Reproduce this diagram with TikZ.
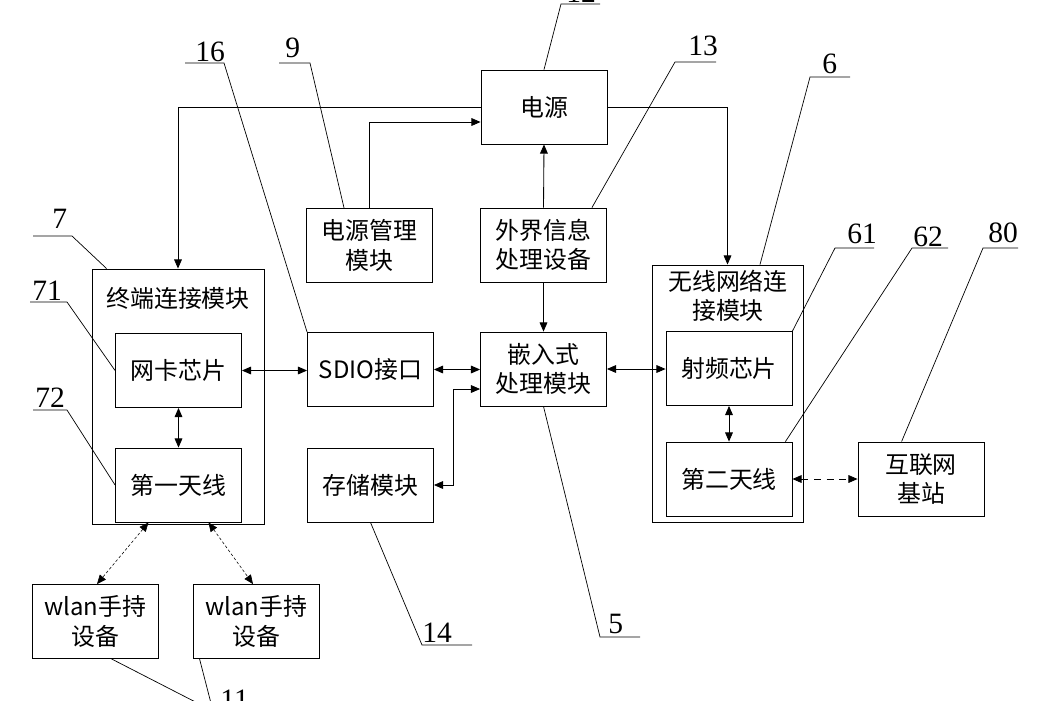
\documentclass[tikz,border=0pt]{standalone}
\usepackage{fontspec}
\setmainfont{Liberation Serif}
\newfontfamily\cjk{Noto Sans CJK SC}
\usetikzlibrary{calc,arrows.meta}

\begin{document}
\begin{tikzpicture}[x=0.025cm,y=-0.025cm,line width=0.6pt,
  box/.style={draw,minimum width=3.15cm,minimum height=1.85cm,inner sep=0pt,align=center,font=\cjk\fontsize{17}{21}\selectfont},
  frame/.style={draw,inner sep=0pt},
  title/.style={inner sep=0pt,align=center,font=\cjk\fontsize{17}{21}\selectfont},
  num/.style={anchor=base west,inner sep=0pt,font=\fontsize{21}{24}\selectfont},
  lead/.style={line width=0.5pt},
  arr/.style={-{Triangle[length=6.5pt,width=5.5pt]}},
  darr/.style={{Triangle[length=6.5pt,width=5.5pt]}-{Triangle[length=6.5pt,width=5.5pt]}},
  linkdash/.style={dash pattern=on 5pt off 4pt},
  radio/.style={line width=0.4pt,dash pattern=on 2pt off 1.5pt}]

\useasboundingbox (0,0) rectangle (1050,700);

\node[box] (pwr) at (544,107) {电源};

\node[box] (pmu) at (369.5,245.5) {电源管理\\模块};

\node[box] (ext) at (543.5,245) {外界信息\\处理设备};

\node[frame,minimum width=4.3cm,minimum height=6.375cm] (term) at (178,396.5) {};

\node[title] (termt) at (178,298) {终端连接模块};

\node[box] (nic) at (178.5,370.5) {网卡芯片};

\node[box] (ant1) at (178.5,485) {第一天线};

\node[box] (sdio) at (370.5,369.5) {SDIO接口};

\node[box] (cpu) at (543.5,369) {嵌入式\\处理模块};

\node[box] (mem) at (370.5,485) {存储模块};

\node[frame,minimum width=3.775cm,minimum height=6.425cm] (wnet) at (727.5,393.5) {};

\node[title] (wnett) at (728,296) {无线网络连\\接模块};

\node[box] (rf) at (729,368.5) {射频芯片};

\node[box] (ant2) at (729,479) {第二天线};

\node[box] (inet) at (921,479) {互联网\\基站};

\node[box] (wlan1) at (95,621.5) {wlan手持\\设备};

\node[box] (wlan2) at (256,621.5) {wlan手持\\设备};


\draw[arr] (pwr.west) -| (term.north);
\draw[arr] (pmu.north) |- ($(pwr.west)+(0,15)$);
\draw[arr] (ext.north) -- (pwr.south);
\draw[arr] (ext.south) -- (cpu.north);
\draw[arr] (pwr.east) -| (wnet.north);
\draw[darr] (nic.east) -- (nic.east -| sdio.west);
\draw[darr] (sdio.east) -- (sdio.east -| cpu.west);
\draw[darr] (cpu.east) -- (cpu.east -| rf.west);
\draw[darr] (mem.east) -- ++(19,0) |- ($(cpu.west)+(0,20)$);
\draw[darr] (nic.south) -- (ant1.north);
\draw[darr] (rf.south) -- (ant2.north);
\draw[darr,linkdash] (ant2.east) -- (inet.west);
\draw[darr,radio] ($(ant1.south)+(-30,0)$) -- ($(wlan1.north)+(2,0)$);
\draw[darr,radio] ($(ant1.south)+(30,0)$) -- ($(wlan2.north)+(-3,0)$);


\coordinate (u12a) at (561,4);
\coordinate (u12b) at (600,4);
\node[num] (n12) at (566,2.5) {12};
\draw[lead] (pwr.north) -- (u12a) -- (u12b);

\coordinate (u16a) at (185,63);
\coordinate (u16b) at (224,63);
\node[num] (n16) at (195,61.5) {16};
\draw[lead] (sdio.north west) -- (u16b) -- (u16a);

\coordinate (u9a) at (279,63);
\coordinate (u9b) at (310,63);
\node[num] (n9) at (285,57) {9};
\draw[lead] ($(pmu.north west)+(38,0)$) -- (u9b) -- (u9a);

\coordinate (u13a) at (675,62);
\coordinate (u13b) at (716,62);
\node[num] (n13) at (688,55) {13};
\draw[lead] ($(ext.north east)+(-15,0)$) -- (u13a) -- (u13b);

\coordinate (u6a) at (810,77);
\coordinate (u6b) at (850,77);
\node[num] (n6) at (822,73) {6};
\draw[lead] ($(wnet.north)+(32.5,0)$) -- (u6a) -- (u6b);

\coordinate (u61a) at (835,248);
\coordinate (u61b) at (874,248);
\node[num] (n61) at (847,243) {61};
\draw[lead] (rf.north east) -- (u61a) -- (u61b);

\coordinate (u62a) at (912,248);
\coordinate (u62b) at (948,248);
\node[num] (n62) at (913,246) {62};
\draw[lead] ($(ant2.north east)+(-7,0)$) -- (u62a) -- (u62b);

\coordinate (u80a) at (983,248);
\coordinate (u80b) at (1018,248);
\node[num] (n80) at (988,242) {80};
\draw[lead] ($(inet.north west)+(44,0)$) -- (u80a) -- (u80b);

\coordinate (u7a) at (33,236);
\coordinate (u7b) at (72,236);
\node[num] (n7) at (52,228) {7};
\draw[lead] ($(term.north west)+(15,0)$) -- (u7b) -- (u7a);

\coordinate (u71a) at (30,302);
\coordinate (u71b) at (67,302);
\node[num] (n71) at (32,300) {71};
\draw[lead] (nic.west) -- (u71b) -- (u71a);

\coordinate (u72a) at (33,410);
\coordinate (u72b) at (67,410);
\node[num] (n72) at (35,407) {72};
\draw[lead] (ant1.west) -- (u72b) -- (u72a);

\coordinate (u14a) at (422,645);
\coordinate (u14b) at (472,645);
\node[num] (n14) at (422,642) {14};
\draw[lead] (mem.south) -- (u14a) -- (u14b);

\coordinate (u5a) at (600,637);
\coordinate (u5b) at (640,637);
\node[num] (n5) at (608,633) {5};
\draw[lead] (cpu.south) -- (u5a) -- (u5b);

\coordinate (u11a) at (213,711);
\coordinate (u11b) at (255,711);
\node[num] (n11) at (220,709) {11};
\draw[lead] ($(wlan1.south west)+(80,0)$) -- (u11a) -- (u11b);
\draw[lead] ($(wlan2.south west)+(7,0)$) -- (u11a);

\end{tikzpicture}
\end{document}
